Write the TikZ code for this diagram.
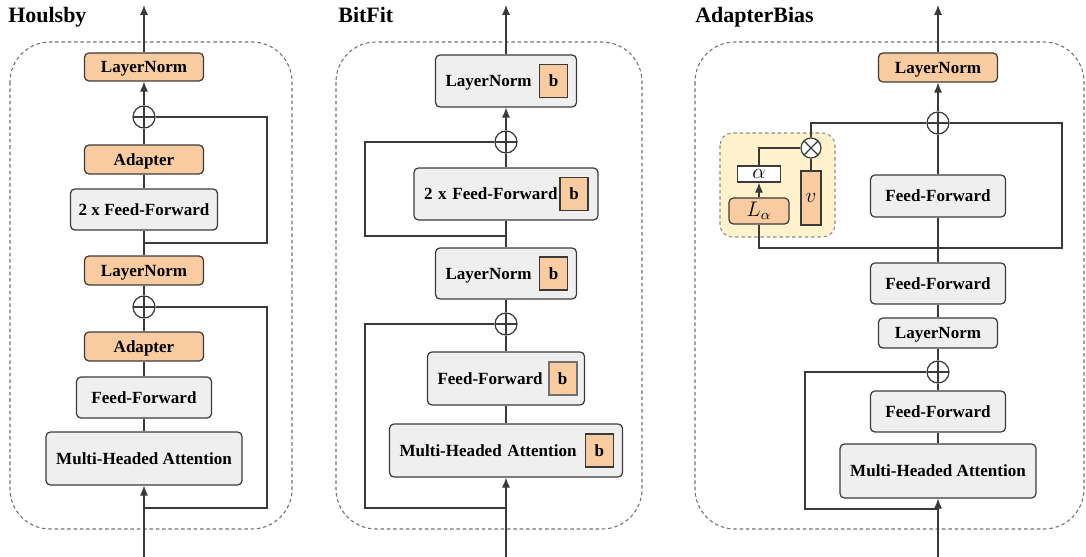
\documentclass[tikz,border=0pt]{standalone}
\usepackage{fontspec}
\setmainfont{Liberation Serif}
\usepackage{tikz}
\usetikzlibrary{arrows.meta,positioning}
\definecolor{rand}{HTML}{3A3A3A}
\definecolor{orng}{HTML}{F8CBA0}
\definecolor{hgrau}{HTML}{EFEFEF}
\definecolor{gelb}{HTML}{FFF2CC}
\definecolor{strich}{HTML}{707070}
\tikzset{
  linie/.style={rand,line width=0.6pt},
  pfeil/.style={-{Latex[length=2mm,width=1.6mm]},rand,line width=0.6pt},
  kasten/.style={draw=rand,fill=hgrau,rounded corners=2.5pt,line width=0.7pt,inner sep=0pt,text depth=0pt,font=\bfseries\fontsize{9.7}{11}\selectfont},
  okasten/.style={kasten,fill=orng},
  tkasten/.style={kasten,align=left,inner xsep=0.2cm},
  bkasten/.style={draw=rand,fill=orng,line width=0.7pt,minimum width=0.56cm,minimum height=0.66cm,inner sep=0pt,font=\bfseries\fontsize{9.7}{11}\selectfont},
  mkasten/.style={draw=rand,line width=0.7pt,inner sep=0pt,font=\fontsize{12}{13}\selectfont},
  summe/.style={circle,draw=rand,fill=white,line width=0.7pt,minimum size=0.44cm,inner sep=0pt,
    path picture={\draw[rand,line width=0.7pt] (path picture bounding box.north)--(path picture bounding box.south)
      (path picture bounding box.west)--(path picture bounding box.east);}},
  prod/.style={circle,draw=rand,fill=white,line width=0.7pt,minimum size=0.4cm,inner sep=0pt,
    path picture={\draw[rand,line width=0.7pt] (path picture bounding box.north west)--(path picture bounding box.south east)
      (path picture bounding box.south west)--(path picture bounding box.north east);}},
  rahmen/.style={draw=strich,dash pattern=on 2pt off 1.6pt,line width=0.6pt,rounded corners=0.8cm},
  titel/.style={font=\bfseries\fontsize{12.5}{14}\selectfont,anchor=base west,inner sep=0pt},
}

\begin{document}
\begin{tikzpicture}[x=0.02cm,y=-0.02cm]
  \useasboundingbox (0,0) rectangle (1086,557);
  % --- Houlsby ---
  \node[titel] (t1) at (8,23) {Houlsby};
  \draw[rahmen] (10,42) rectangle (292,529);
  \node[okasten,minimum width=2.38cm,minimum height=0.56cm] (hln1) at (144,67) {LayerNorm};
  \node[summe] (hadd1) at (144,117) {};
  \node[okasten,minimum width=2.38cm,minimum height=0.58cm] (had1) at (144,159.5) {Adapter};
  \node[kasten,minimum width=2.94cm,minimum height=0.82cm] (hff2) at (144,209.5) {2 x Feed-Forward};
  \node[okasten,minimum width=2.38cm,minimum height=0.58cm] (hln2) at (144,270.5) {LayerNorm};
  \node[summe] (hadd2) at (144,307) {};
  \node[okasten,minimum width=2.38cm,minimum height=0.58cm] (had2) at (144,346.5) {Adapter};
  \node[kasten,minimum width=2.70cm,minimum height=0.82cm] (hff1) at (144,397.5) {Feed-Forward};
  \node[kasten,minimum width=3.92cm,minimum height=1.06cm] (hmha) at (144,458.5) {Multi-Headed Attention};
  \coordinate (hin) at (144,557);
  \coordinate (haus) at (144,5);
  \coordinate (hr1) at (144,243);
  \coordinate (hr2) at (144,508);
  \draw[pfeil] (hin) -- (hmha);
  \draw[linie] (hmha) -- (hff1) -- (had2) -- (hadd2) -- (hln2) -- (hff2) -- (had1) -- (hadd1);
  \draw[pfeil] (hadd1) -- (hln1);
  \draw[pfeil] (hln1) -- (haus);
  \draw[linie] (hadd1.east) -| (267,243) -- (hr1);
  \draw[linie] (hadd2.east) -| (267,508) -- (hr2);
  % --- BitFit ---
  \node[titel] (t2) at (338,23) {BitFit};
  \draw[rahmen] (336,42) rectangle (642,529);
  \node[tkasten,text width=2.42cm,minimum height=1.04cm] (bln1) at (506,81) {LayerNorm};
  \node[bkasten,anchor=east] (bb1) at ([xshift=-0.18cm]bln1.east) {b};
  \node[summe] (badd1) at (506,142) {};
  \node[tkasten,text width=3.28cm,minimum height=1.04cm] (bff2) at (506,194) {2 x Feed-Forward};
  \node[bkasten,anchor=east] (bb2) at ([xshift=-0.2cm]bff2.east) {b};
  \node[tkasten,text width=2.42cm,minimum height=1.02cm] (bln2) at (506,273.5) {LayerNorm};
  \node[bkasten,anchor=east] (bb3) at ([xshift=-0.18cm]bln2.east) {b};
  \node[summe] (badd2) at (506,324) {};
  \node[tkasten,text width=2.74cm,minimum height=1.06cm] (bff1) at (506,378.5) {Feed-Forward};
  \node[bkasten,anchor=east,draw=strich,line width=1pt] (bb4) at ([xshift=-0.15cm]bff1.east) {b};
  \node[tkasten,text width=4.26cm,minimum height=1.06cm] (bmha) at (506,450.5) {Multi-Headed Attention};
  \node[bkasten,anchor=east] (bb5) at ([xshift=-0.18cm]bmha.east) {b};
  \coordinate (bin) at (506,557);
  \coordinate (baus) at (506,5);
  \coordinate (br1) at (506,236);
  \coordinate (br2) at (506,508);
  \draw[pfeil] (bin) -- (bmha);
  \draw[linie] (bmha) -- (bff1) -- (badd2) -- (bln2) -- (bff2) -- (badd1);
  \draw[pfeil] (badd1) -- (bln1);
  \draw[pfeil] (bln1) -- (baus);
  \draw[linie] (badd1.west) -| (365,236) -- (br1);
  \draw[linie] (badd2.west) -| (365,508) -- (br2);
  % --- AdapterBias ---
  \node[titel] (t3) at (695,23) {AdapterBias};
  \draw[rahmen] (695,42) rectangle (1084,529);
  \draw[draw=strich!80,fill=gelb,dash pattern=on 2pt off 1.6pt,line width=0.6pt,rounded corners=0.25cm] (720,133) rectangle (835,237);
  \node[okasten,minimum width=2.38cm,minimum height=0.58cm] (aln1) at (938,67.5) {LayerNorm};
  \node[summe] (aadd1) at (938,123) {};
  \node[kasten,minimum width=2.70cm,minimum height=0.84cm] (aff1) at (938,196) {Feed-Forward};
  \node[kasten,minimum width=2.70cm,minimum height=0.82cm] (aff2) at (938,283.5) {Feed-Forward};
  \node[kasten,minimum width=2.38cm,minimum height=0.60cm] (aln2) at (938,333) {LayerNorm};
  \node[summe] (aadd2) at (938,372) {};
  \node[kasten,minimum width=2.70cm,minimum height=0.82cm] (aff3) at (938,411.5) {Feed-Forward};
  \node[kasten,minimum width=3.92cm,minimum height=1.08cm] (amha) at (938,471) {Multi-Headed Attention};
  \node[prod] (amul) at (811,148) {};
  \node[mkasten,fill=white,minimum width=0.86cm,minimum height=0.32cm] (aalpha) at (759,174) {$\alpha$};
  \node[mkasten,fill=orng,rounded corners=2.5pt,minimum width=1.2cm,minimum height=0.52cm] (ala) at (759,211) {$L_\alpha$};
  \node[mkasten,fill=orng,minimum width=0.4cm,minimum height=1.08cm] (av) at (811,198) {$v$};
  \coordinate (ain) at (938,557);
  \coordinate (aaus) at (938,5);
  \coordinate (ar2) at (938,509);
  \draw[pfeil] (ain) -- (amha);
  \draw[linie] (amha) -- (aff3) -- (aadd2) -- (aln2) -- (aff2) -- (aff1) -- (aadd1);
  \draw[pfeil] (aadd1) -- (aln1);
  \draw[pfeil] (aln1) -- (aaus);
  \draw[linie] (aadd2.west) -| (805,509) -- (ar2);
  \draw[linie] (ala.south) |- (1062,248) |- (aadd1.east);
  \draw[linie] (amul.north) |- (aadd1.west);
  \draw[pfeil] (ala) -- (aalpha);
  \draw[linie] (aalpha.north) |- (amul.west);
  \draw[linie] (av) -- (amul);
\end{tikzpicture}
\end{document}
